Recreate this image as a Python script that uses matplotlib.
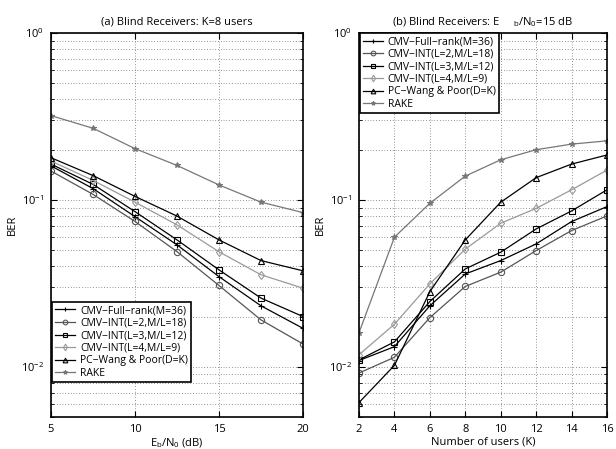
import matplotlib
matplotlib.use("Agg")
import matplotlib.pyplot as plt
from matplotlib.ticker import LogLocator, NullFormatter

plt.rcParams["font.family"] = ["Open Sans", "DejaVu Sans"]
plt.rcParams["font.size"] = 8
plt.rcParams["mathtext.default"] = "regular"

labels = [
    "CMV\u2212Full\u2212rank(M=36)",
    "CMV\u2212INT(L=2,M/L=18)",
    "CMV\u2212INT(L=3,M/L=12)",
    "CMV\u2212INT(L=4,M/L=9)",
    "PC\u2212Wang & Poor(D=K)",
    "RAKE",
]
colors = ["black", "#555555", "black", "#9a9a9a", "black", "#777777"]
markers = ["+", "o", "s", "d", "^", "*"]

# (a) BER vs Eb/N0, K=8
snr = [5, 7.5, 10, 12.5, 15, 17.5, 20]
ber_a = [
    [0.160, 0.117, 0.0794, 0.0538, 0.0347, 0.0232, 0.0170],
    [0.149, 0.108, 0.0743, 0.0490, 0.0307, 0.0191, 0.0137],
    [0.164, 0.124, 0.0851, 0.0576, 0.0381, 0.0258, 0.0200],
    [0.171, 0.131, 0.0970, 0.0709, 0.0489, 0.0356, 0.0296],
    [0.179, 0.140, 0.105, 0.0800, 0.0576, 0.0433, 0.0376],
    [0.320, 0.269, 0.203, 0.161, 0.123, 0.097, 0.084],
]

# (b) BER vs number of users, Eb/N0=15 dB
users = [2, 4, 6, 8, 10, 12, 14, 16]
ber_b = [
    [0.0109, 0.0132, 0.0232, 0.0360, 0.0433, 0.0545, 0.0742, 0.0912],
    [0.00917, 0.0114, 0.0197, 0.0303, 0.0369, 0.0497, 0.0655, 0.0802],
    [0.0110, 0.0141, 0.0246, 0.0386, 0.0486, 0.0670, 0.0859, 0.115],
    [0.0118, 0.0180, 0.0314, 0.0507, 0.0725, 0.0890, 0.115, 0.151],
    [0.0061, 0.0102, 0.0282, 0.0576, 0.0969, 0.136, 0.164, 0.186],
    [0.0160, 0.0598, 0.0955, 0.139, 0.174, 0.200, 0.216, 0.226],
]

fig = plt.figure(figsize=(6.16, 4.49), dpi=100)
ax1 = fig.add_axes([0.0828, 0.0713, 0.409, 0.855])
ax2 = fig.add_axes([0.5828, 0.0713, 0.4026, 0.855])


def style(ax):
    ax.set_yscale("log")
    ax.set_ylim(0.005, 1)
    ax.yaxis.set_major_locator(LogLocator(base=10, numticks=10))
    ax.yaxis.set_minor_locator(LogLocator(base=10, subs=range(2, 10), numticks=10))
    ax.yaxis.set_minor_formatter(NullFormatter())
    ax.grid(True, which="major", linestyle=(0, (1, 3)), color="#333333", linewidth=0.5)
    ax.grid(True, which="minor", axis="y", linestyle=(0, (1, 3)), color="#333333", linewidth=0.5)
    ax.tick_params(which="both", direction="in", top=True, right=True)
    ax.tick_params(which="major", length=4, pad=5)
    ax.tick_params(which="minor", length=2)
    for s in ax.spines.values():
        s.set_linewidth(1.2)
    ax.set_ylabel("BER", labelpad=2)


def draw(ax, x, series):
    for vals, lab, c, m in zip(series, labels, colors, markers):
        ax.plot(x, vals, color=c, marker=m, markersize=4.5 if m != "*" else 4,
                markerfacecolor=c if m == "*" else "none", markeredgecolor=c,
                markeredgewidth=0.8, linewidth=0.9, label=lab)


leg_kw = dict(handlelength=1.9, fancybox=False, edgecolor="black", framealpha=1,
              labelspacing=0.15, handletextpad=0.5, fontsize=7.5, markerscale=0.75,
              borderpad=0.3, borderaxespad=0.0)

draw(ax1, snr, ber_a)
style(ax1)
ax1.set_xlim(5, 20)
ax1.set_xticks([5, 10, 15, 20])
ax1.set_xlabel("E$_b$/N$_0$ (dB)", labelpad=1)
ax1.set_title("(a) Blind Receivers: K=8 users", fontsize=8, pad=6)
leg1 = ax1.legend(loc="lower left", bbox_to_anchor=(0.003, 0.091), **leg_kw)
leg1.get_frame().set_linewidth(1.2)

draw(ax2, users, ber_b)
style(ax2)
ax2.set_xlim(2, 16)
ax2.set_xticks(users)
ax2.set_xlabel("Number of users (K)", labelpad=1)
ax2.set_title("(b) Blind Receivers: E     $_b$/N$_0$=15 dB", fontsize=8, pad=6)
leg2 = ax2.legend(loc="upper left", bbox_to_anchor=(0.003, 1.0), **leg_kw)
leg2.get_frame().set_linewidth(1.2)

fig.savefig("out.png", dpi=100)
